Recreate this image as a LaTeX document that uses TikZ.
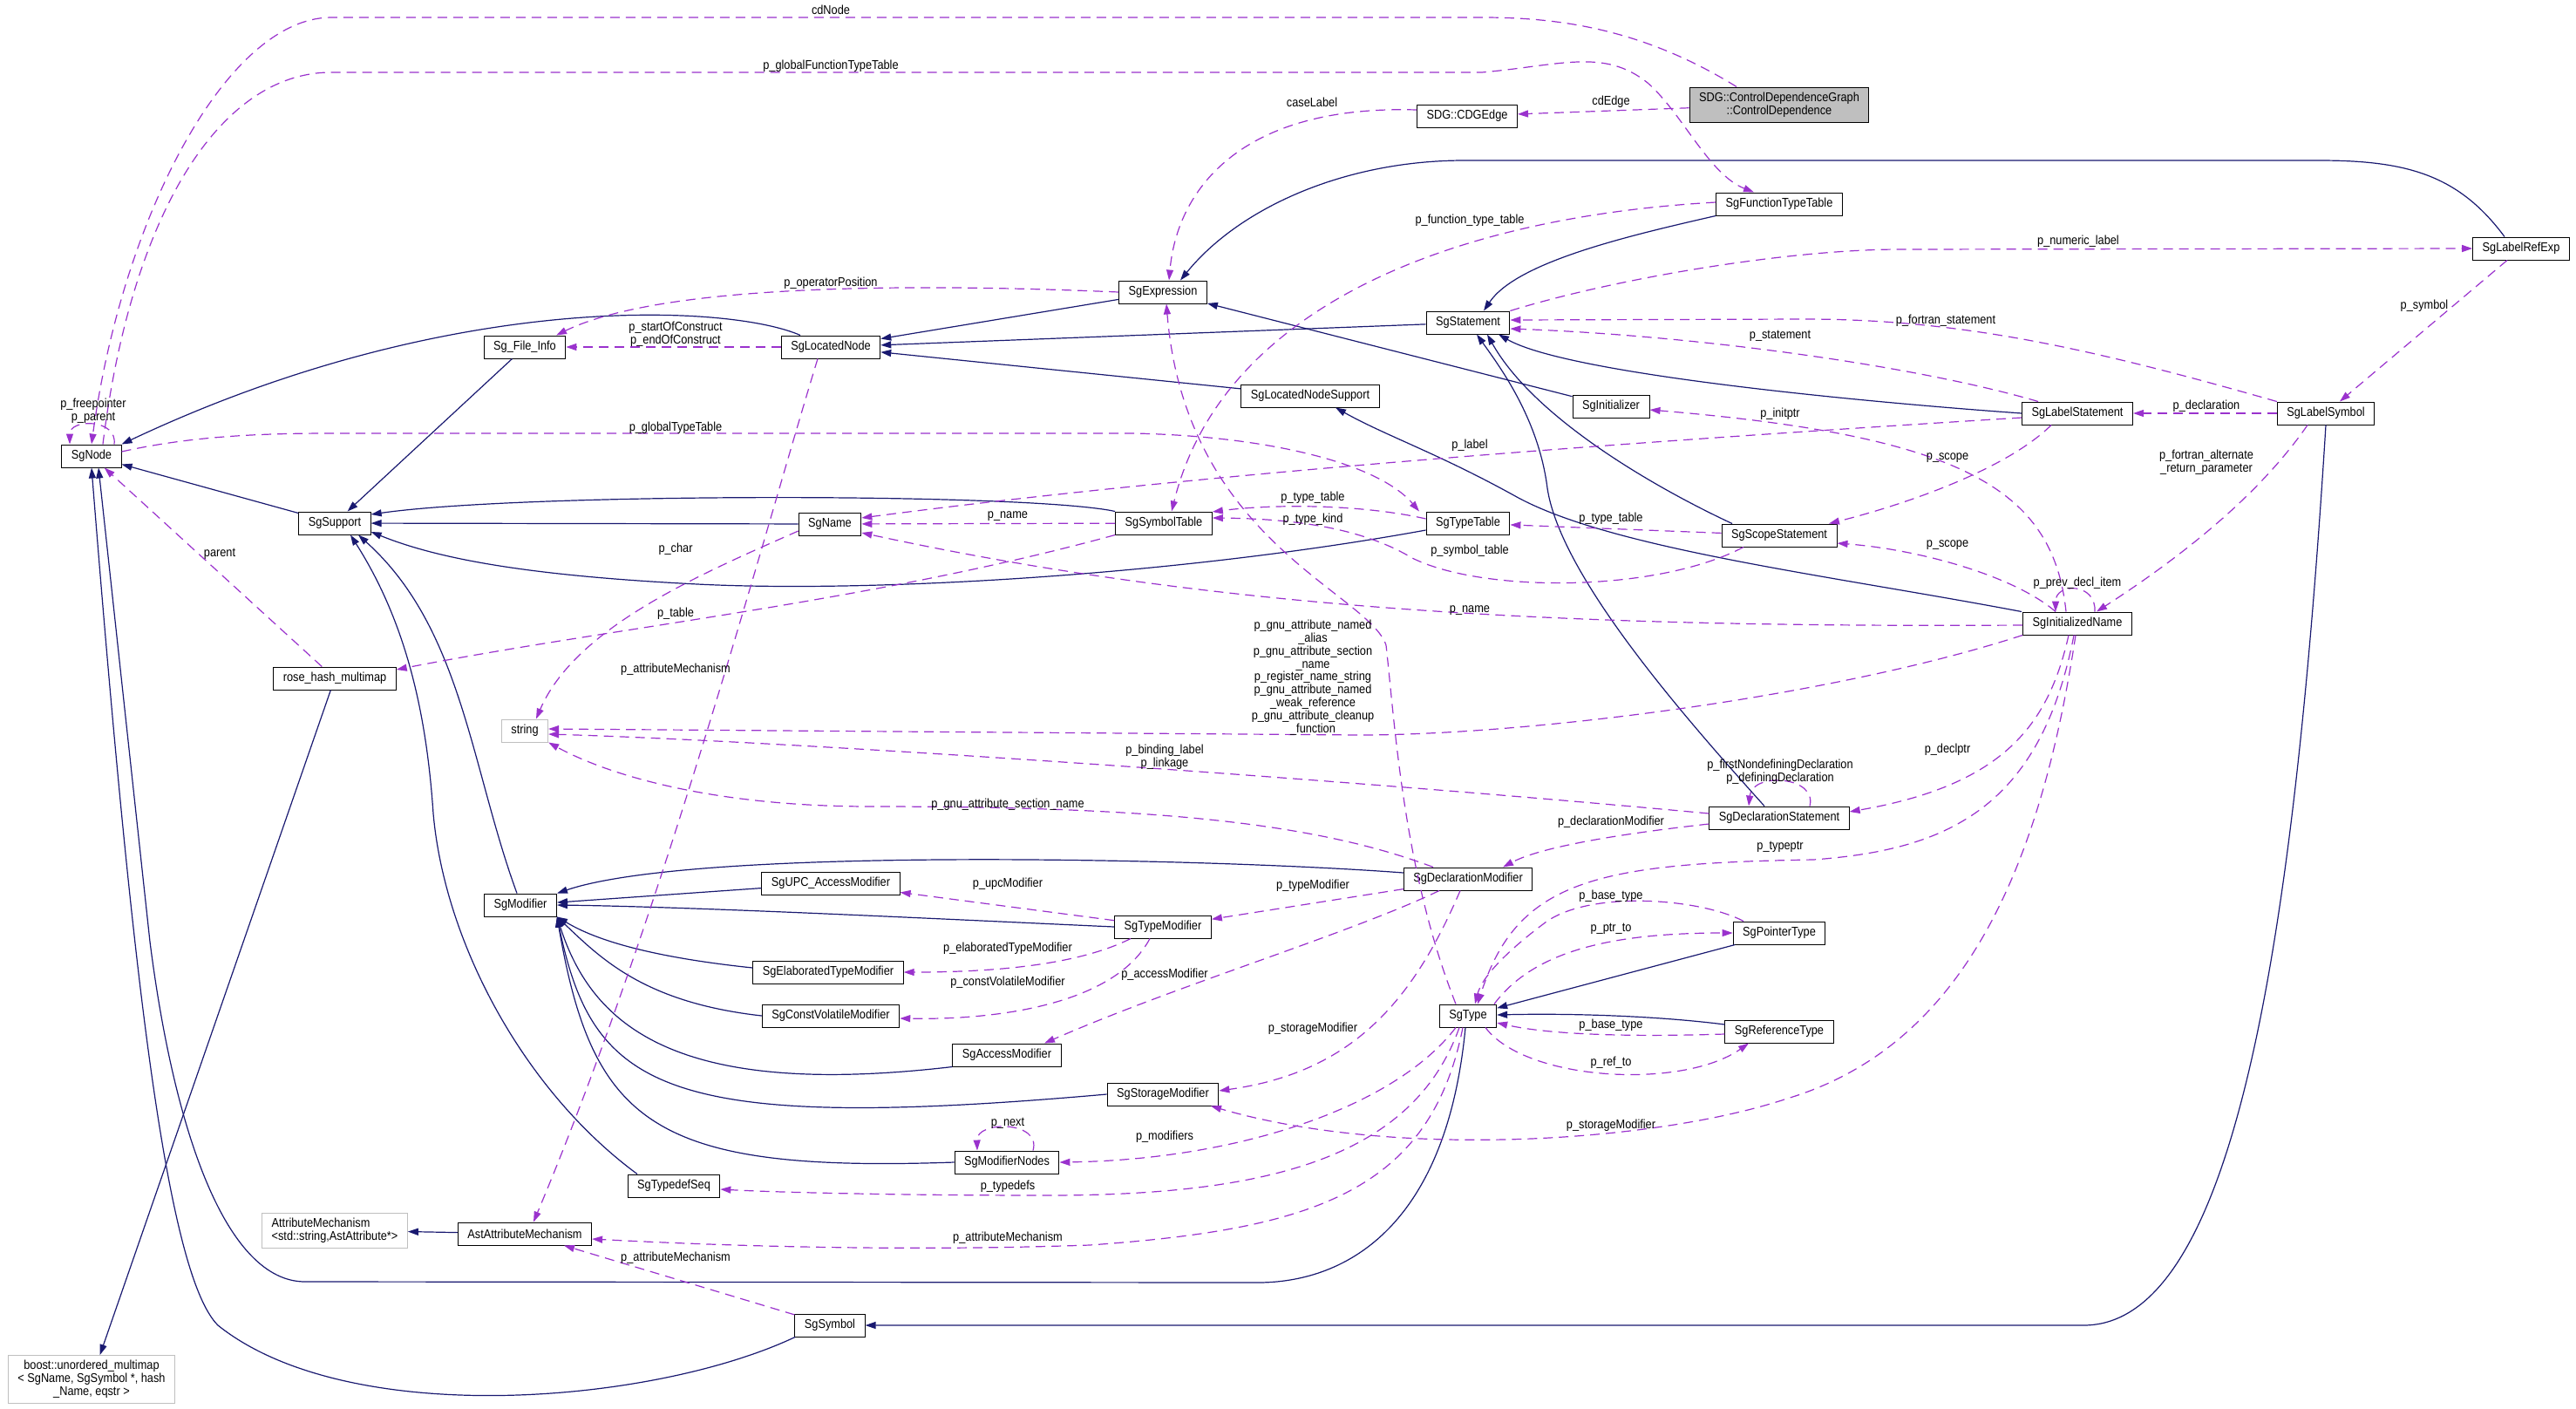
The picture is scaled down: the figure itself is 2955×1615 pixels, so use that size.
\documentclass[tikz,border=0pt]{standalone}
\usepackage{fontspec}
\usetikzlibrary{arrows.meta}
\newfontfamily\dox{Liberation Sans}[FakeStretch=0.88]
\definecolor{isacol}{HTML}{191970}
\definecolor{hascol}{HTML}{9A32CD}
\definecolor{ghost}{HTML}{BFBFBF}

\begin{document}
\begin{tikzpicture}[x=1pt, y=-1pt, font=\dox\fontsize{14.5}{14.8}\selectfont,
    cls/.style={draw=black, fill=white, line width=1pt, align=center,
      inner xsep=11pt, inner ysep=0pt, minimum height=26pt},
    isa/.style={draw=isacol, line width=1.2pt, -{Triangle[length=12pt,width=8pt]}},
    has/.style={draw=hascol, line width=1.2pt, dash pattern=on 11pt off 7pt,
      -{Triangle[length=12pt,width=8pt]}},
    lbl/.style={inner sep=0pt, align=center}]
  \useasboundingbox (0,0) rectangle (2955,1615);

  % classes
  \foreach \n/\x/\y/\t in {cdgedge/1683/133/SDG::CDGEdge, ftt/2041/234/SgFunctionTypeTable,
      lre/2892/285/SgLabelRefExp, expr/1334/335/SgExpression, stmt/1684/370/SgStatement,
      lnode/953/398/SgLocatedNode, finfo/602/398/Sg\_File\_Info, sgnode/105/523/SgNode,
      lns/1503/454/SgLocatedNodeSupport, init/1848/466/SgInitializer,
      lstmt/2383/474/SgLabelStatement, lsym/2668/474/SgLabelSymbol, supp/384/600/SgSupport,
      name/952/601/SgName, symtab/1335/600/SgSymbolTable, ttab/1684/600/SgTypeTable,
      scope/2041/614/SgScopeStatement, iname/2383/715/SgInitializedName,
      rhm/384/778/rose\_hash\_multimap, decl/2041/938/SgDeclarationStatement,
      declmod/1684/1008/SgDeclarationModifier, upc/953/1013/SgUPC\_AccessModifier,
      modi/597/1038/SgModifier, tmod/1334/1063/SgTypeModifier, ptr/2041/1070/SgPointerType,
      elab/950/1115/SgElaboratedTypeModifier, cv/953/1165/SgConstVolatileModifier,
      type/1684/1165/SgType, ref/2041/1183/SgReferenceType, acc/1155/1210/SgAccessModifier,
      stor/1334/1255/SgStorageModifier, mnodes/1155/1333/SgModifierNodes,
      tdseq/773/1360/SgTypedefSeq, aam/602/1415/AstAttributeMechanism, sym/952/1520/SgSymbol}
    \node[cls] (\n) at (\x,\y) {\t};
  \node[cls, fill=ghost, minimum height=40pt] (cdg) at (2041,120)
    {SDG::ControlDependenceGraph\\::ControlDependence};
  \node[cls, draw=ghost] (str) at (602,838) {string};
  \node[cls, draw=ghost, align=left, minimum height=40pt] (am) at (384,1411)
    {AttributeMechanism\\<std::string,AstAttribute*>};
  \node[cls, draw=ghost, minimum height=55pt] (boost) at (105,1582)
    {boost::unordered\_multimap\\< SgName, SgSymbol *, hash\\\_Name, eqstr >};

  % inheritance
  \foreach \a/\b in {supp/sgnode, finfo/supp, expr/lnode, stmt/lnode, lns/lnode, init/expr,
      name/supp, upc/modi, ptr/type, aam/am, rhm/boost}
    \draw[isa] (\a) -- (\b);
  \draw[isa] ([xshift=-35pt]lnode.north) .. controls (840,350) and (520,330) .. (sgnode.north east);
  \draw[isa] (ftt.south west) .. controls (1870,270) and (1740,300) .. ([xshift=18pt]stmt.north);
  \draw[isa] ([xshift=-19pt]lre.north) .. controls (2820,200) and (2760,184) .. (2660,184)
    -- (1680,184) .. controls (1540,184) and (1420,240) .. ([xshift=20pt]expr.north);
  \draw[isa] (lstmt.west) .. controls (2150,462) and (1800,430) .. ([xshift=35pt]stmt.south);
  \draw[isa] ([xshift=-54pt]scope.north) .. controls (1900,560) and (1760,480) .. ([xshift=22pt]stmt.south);
  \draw[isa] ([xshift=-17pt]decl.north) .. controls (1930,820) and (1790,660) .. (1775,560)
    .. controls (1765,480) and (1720,420) .. ([xshift=10pt]stmt.south);
  \draw[isa] ([xshift=-64pt]iname.north) .. controls (2100,660) and (1850,630) .. (1740,570)
    .. controls (1650,520) and (1590,500) .. ([xshift=29pt]lns.south);
  \draw[isa] (symtab.north west) .. controls (1180,565) and (600,565) .. ([yshift=10pt]supp.east);
  \draw[isa] ([yshift=-8pt]ttab.west) .. controls (1350,660) and (1000,680) .. (800,670)
    .. controls (600,660) and (500,640) .. ([yshift=-10pt]supp.east);
  \draw[isa] ([xshift=-4pt]modi.north) .. controls (540,880) and (530,720) .. ([xshift=27pt]supp.south);
  \draw[isa] ([xshift=-42pt]tdseq.north) .. controls (600,1250) and (510,1080) .. (497,933)
    .. controls (490,830) and (470,720) .. ([xshift=18pt]supp.south);
  \draw[isa] ([xshift=-40pt]sym.south) .. controls (750,1610) and (400,1640) .. (250,1520)
    .. controls (190,1460) and (150,1100) .. (sgnode.south);
  \draw[isa] ([xshift=-3pt]type.south) .. controls (1660,1400) and (1550,1472) .. (1440,1471)
    -- (350,1470) .. controls (260,1470) and (200,1300) .. (172,1080) -- ([xshift=8pt]sgnode.south);
  \draw[isa] (lsym.south) .. controls (2630,1100) and (2560,1520) .. (2390,1520) -- (sym.east);
  \draw[isa] ([yshift=7pt]declmod.west) .. controls (1400,985) and (800,970) .. (modi.north east);
  \draw[isa] (tmod.west) .. controls (1100,1055) and (800,1040) .. (modi.east);
  \draw[isa] ([yshift=5pt]elab.west) .. controls (720,1095) and (670,1070) .. (modi.south east);
  \draw[isa] (cv.west) .. controls (740,1150) and (690,1100) .. (modi.south east);
  \draw[isa] (acc.south west) .. controls (780,1260) and (680,1180) .. (modi.south east);
  \draw[isa] (stor.west) .. controls (760,1300) and (680,1250) .. (modi.south east);
  \draw[isa] (mnodes.west) .. controls (750,1345) and (680,1290) .. (modi.south east);
  \draw[isa] ([yshift=8pt]ref.west) .. controls (1900,1165) and (1800,1162) .. ([yshift=1pt]type.east);

  % members
  \foreach \a/\b in {lnode/finfo, symtab/name, lsym/lstmt, cdg/cdgedge, scope/ttab, sym/aam,
      rhm/sgnode, lre/lsym, declmod/tmod, tmod/upc}
    \draw[has] (\a) -- (\b);
  \draw[has] ([xshift=-49pt]cdg.north) .. controls (1880,30) and (1780,20) .. (1700,20)
    -- (380,20) .. controls (260,20) and (140,250) .. (sgnode.north);
  \draw[has] ([xshift=13pt]sgnode.north) .. controls (150,250) and (250,83) .. (380,83) -- (1700,83)
    .. controls (1790,75) and (1840,55) .. (1890,95) .. controls (1930,130) and (1960,200) .. ([xshift=-29pt]ftt.north);
  \draw[has] ([xshift=26pt]sgnode.north) .. controls (135,480) and (80,480) .. ([xshift=-25pt]sgnode.north);
  \draw[has] ([yshift=7pt]cdgedge.west) .. controls (1420,120) and (1350,220) .. ([xshift=7pt]expr.north);
  \draw[has] (expr.west) .. controls (1050,325) and (760,325) .. ([xshift=36pt]finfo.north);
  \draw[has] ([yshift=2pt]ftt.west) .. controls (1650,250) and (1400,360) .. ([xshift=9pt]symtab.north);
  \draw[has] (stmt.north east) .. controls (1850,320) and (2050,286) .. (2180,286) -- (lre.west);
  \draw[has] (lsym.north west) .. controls (2400,400) and (2250,366) .. (2070,366) -- ([yshift=3pt]stmt.east);
  \draw[has] ([xshift=-45pt]lstmt.north) .. controls (2200,420) and (1950,385) .. ([yshift=-7pt]stmt.east);
  \draw[has] ([xshift=-13pt]iname.north) .. controls (2355,560) and (2250,500) .. ([yshift=-4pt]init.east);
  \draw[has] ([yshift=-5pt]lstmt.west) .. controls (1900,505) and (1400,540) .. ([yshift=7pt]name.east);
  \draw[has] ([yshift=5pt]sgnode.east) .. controls (220,500) and (300,497) .. (380,497) -- (1300,497)
    .. controls (1450,500) and (1580,530) .. ([xshift=-56pt]ttab.north);
  \draw[has] ([xshift=-15pt]lnode.south) .. controls (880,600) and (760,1050) .. ([xshift=10pt]aam.north);
  \draw[has] ([yshift=-8pt]name.west) .. controls (800,660) and (660,720) .. ([xshift=13pt]str.north);
  \draw[has] (symtab.south west) .. controls (1000,690) and (700,720) .. ([yshift=10pt]rhm.east);
  \draw[has] ([yshift=5pt]ttab.west) .. controls (1560,578) and (1460,578) .. ([yshift=13pt]symtab.east);
  \draw[has] ([xshift=-14pt]type.north) .. controls (1610,1000) and (1600,830) .. (1590,740)
    .. controls (1570,680) and (1360,620) .. ([xshift=4pt]expr.south);
  \draw[has] ([xshift=-41pt]scope.south) .. controls (1900,680) and (1700,680) .. (1620,640)
    .. controls (1570,610) and (1500,595) .. ([yshift=6pt]symtab.east);
  \draw[has] ([yshift=-2pt]iname.west) .. controls (1800,720) and (1400,700) .. ([yshift=-10pt]name.east);
  \draw[has] (iname.south west) .. controls (2100,800) and (1750,843) .. (1560,843) -- ([yshift=2pt]str.east);
  \draw[has] ([yshift=5pt]decl.west) .. controls (1500,890) and (900,850) .. ([yshift=-4pt]str.east);
  \draw[has] ([xshift=-40pt]declmod.north) .. controls (1500,940) and (1300,925) .. (1000,925)
    .. controls (820,925) and (700,890) .. (str.south east);
  \draw[has] ([xshift=35pt]decl.north) .. controls (2085,890) and (2010,885) .. ([xshift=-35pt]decl.north);
  \draw[has] ([xshift=-10pt]iname.south) .. controls (2350,830) and (2300,900) .. ([yshift=7pt]decl.east);
  \draw[has] ([yshift=-7pt]decl.west) .. controls (1870,955) and (1770,970) .. ([xshift=40pt]declmod.north);
  \draw[has] ([xshift=-4pt]iname.south) .. controls (2340,930) and (2230,975) .. (2080,986)
    .. controls (1830,990) and (1740,1010) .. ([xshift=11pt]type.north);
  \draw[has] ([xshift=-2pt]iname.south) .. controls (2340,1000) and (2250,1200) .. (2050,1260)
    .. controls (1900,1310) and (1600,1330) .. ([xshift=55pt]stor.south);
  \draw[has] ([xshift=-21pt]lsym.south) .. controls (2590,570) and (2500,640) .. ([xshift=22pt]iname.north);
  \draw[has] ([xshift=20pt]iname.north) .. controls (2405,668) and (2358,668) .. ([xshift=-25pt]iname.north);
  \draw[has] ([xshift=-30pt]lstmt.south) .. controls (2300,540) and (2180,580) .. ([xshift=57pt]scope.north);
  \draw[has] ([xshift=-25pt]iname.north) .. controls (2310,660) and (2200,630) .. ([yshift=-9pt]scope.east);
  \draw[has] ([xshift=-37pt]tmod.south) .. controls (1240,1105) and (1150,1115) .. (elab.east);
  \draw[has] ([xshift=-15pt]tmod.south) .. controls (1280,1150) and (1150,1170) .. ([yshift=-3pt]cv.east);
  \draw[has] ([xshift=-33pt]declmod.south) .. controls (1550,1070) and (1350,1130) .. ([xshift=43pt]acc.north);
  \draw[has] ([xshift=-9pt]declmod.south) .. controls (1620,1150) and (1550,1230) .. ([yshift=4pt]stor.east);
  \draw[has] ([xshift=30pt]mnodes.north) .. controls (1195,1285) and (1120,1285) .. ([xshift=-34pt]mnodes.north);
  \draw[has] ([xshift=-14pt]type.south) .. controls (1600,1270) and (1420,1330) .. (mnodes.east);
  \draw[has] ([xshift=-10pt]type.south) .. controls (1620,1330) and (1450,1371) .. (1200,1371)
    .. controls (1050,1371) and (900,1368) .. ([yshift=-4pt]tdseq.east);
  \draw[has] ([xshift=-6pt]type.south) .. controls (1640,1370) and (1500,1410) .. (1250,1428)
    .. controls (1050,1435) and (850,1430) .. ([yshift=-6pt]aam.east);
  \draw[has] ([xshift=-41pt]ptr.north) .. controls (1950,1030) and (1820,1020) .. (1770,1060)
    .. controls (1730,1090) and (1700,1120) .. ([xshift=8pt]type.north);
  \draw[has] ([xshift=30pt]type.north) .. controls (1760,1090) and (1850,1070) .. (ptr.west);
  \draw[has] ([yshift=-3pt]ref.west) .. controls (1850,1190) and (1770,1185) .. ([yshift=-8pt]type.east);
  \draw[has] ([xshift=20pt]type.south) .. controls (1750,1240) and (1930,1250) .. ([xshift=-35pt]ref.south);

  % member names
  \foreach \n/\x/\y/\t in {l1/953/11/cdNode, l2/953/76/p\_globalFunctionTypeTable,
      l3/1505/117/caseLabel, l4/1848/117/cdEdge, l5/953/325/p\_operatorPosition,
      l6/775/383/{p\_startOfConstruct\\p\_endOfConstruct}, l7/1686/253/p\_function\_type\_table,
      l8/2384/277/p\_numeric\_label, l9/2781/351/p\_symbol, l10/2232/368/p\_fortran\_statement,
      l11/2042/385/p\_statement, l12/2531/466/p\_declaration, l13/2042/475/p\_initptr,
      l14/1686/511/p\_label, l15/775/491/p\_globalTypeTable, l16/2234/525/p\_scope,
      l17/2531/530/{p\_fortran\_alternate\\\_return\_parameter}, l18/1156/592/p\_name,
      l19/1506/571/p\_type\_table, l20/1506/596/p\_type\_kind, l21/1848/595/p\_type\_table,
      l22/2234/625/p\_scope, l23/1686/632/p\_symbol\_table, l24/775/630/p\_char,
      l25/252/635/parent, l26/2383/669/p\_prev\_decl\_item, l27/1686/700/p\_name,
      l28/775/704/p\_table, l29/775/768/p\_attributeMechanism,
      l30/1506/777/{p\_gnu\_attribute\_named\\\_alias\\p\_gnu\_attribute\_section\\\_name\\p\_register\_name\_string\\p\_gnu\_attribute\_named\\\_weak\_reference\\p\_gnu\_attribute\_cleanup\\\_function},
      l31/2234/860/p\_declptr, l32/1336/868/{p\_binding\_label\\p\_linkage},
      l33/2042/885/{p\_firstNondefiningDeclaration\\p\_definingDeclaration},
      l34/1156/923/p\_gnu\_attribute\_section\_name, l35/1848/943/p\_declarationModifier,
      l36/2042/971/p\_typeptr, l37/1156/1014/p\_upcModifier, l38/1506/1016/p\_typeModifier,
      l39/1848/1028/p\_base\_type, l40/1848/1065/p\_ptr\_to, l41/1156/1088/p\_elaboratedTypeModifier,
      l42/1336/1118/p\_accessModifier, l43/1156/1127/p\_constVolatileModifier,
      l44/1848/1176/p\_base\_type, l45/1506/1180/p\_storageModifier, l46/1848/1219/p\_ref\_to,
      l47/1156/1288/p\_next, l48/1848/1291/p\_storageModifier, l49/1336/1304/p\_modifiers,
      l50/1156/1361/p\_typedefs, l51/1156/1420/p\_attributeMechanism,
      l52/775/1443/p\_attributeMechanism, l53/107/471/{p\_freepointer\\p\_parent}}
    \node[lbl] (\n) at (\x,\y) {\t};
\end{tikzpicture}
\end{document}
